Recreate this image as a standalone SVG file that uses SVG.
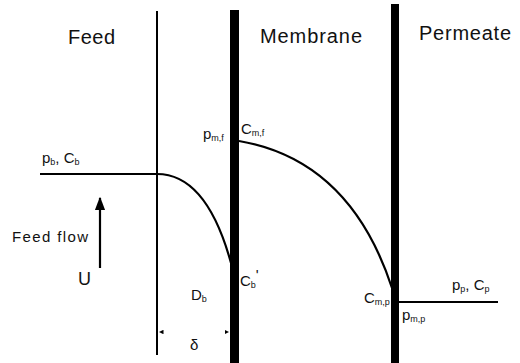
<svg xmlns="http://www.w3.org/2000/svg" width="520" height="363" viewBox="0 0 520 363">
<style>
text{font-family:"Liberation Sans",Arial,sans-serif;fill:#111}
.big{font-size:20px}
.lab{font-size:15px}
.sub{font-size:9px}
.ln{stroke:#000;fill:none;stroke-width:2.2}
</style>
<defs>
<marker id="ah" viewBox="0 0 10 10" refX="9" refY="5" markerWidth="6" markerHeight="4.6" orient="auto" markerUnits="strokeWidth" preserveAspectRatio="none">
<path d="M0,0 L10,5 L0,10 z" fill="#000"/>
</marker>
<marker id="tk" viewBox="0 0 10 10" refX="10" refY="5" markerWidth="3" markerHeight="3" orient="auto" markerUnits="strokeWidth">
<path d="M0,0 L10,5 L0,10 z" fill="#000"/>
</marker>
</defs>
<g id="regions">
<text class="big" x="68" y="44" textLength="47">Feed</text>
<text class="big" x="260" y="43" textLength="102">Membrane</text>
<text class="big" x="419" y="40" textLength="92">Permeate</text>
</g>
<g id="boundary-layer-edge"><line x1="157" y1="11" x2="157" y2="355" stroke="#000" stroke-width="2"/></g>
<g id="membrane-feed-side"><rect x="230" y="10" width="9" height="353" fill="#000"/></g>
<g id="membrane-permeate-side"><rect x="391" y="4" width="8" height="359" fill="#000"/></g>
<g id="connectors">
<path class="ln" d="M40,174 L157,174 C190,174 215,205 231,263"/>
<path class="ln" d="M239,141 Q350,160 392,288"/>
<path class="ln" d="M399,302 L498,302"/>
<line class="ln" x1="100" y1="268" x2="100" y2="198" marker-end="url(#ah)"/>
<line x1="180" y1="332" x2="159" y2="332" stroke="#000" stroke-width="1.5" stroke-opacity="0" marker-end="url(#tk)"/>
<line x1="205" y1="332" x2="229" y2="332" stroke="#000" stroke-width="1.5" stroke-opacity="0" marker-end="url(#tk)"/>
</g>
<g id="labels">
<text class="lab" x="42" y="163">p<tspan class="sub" dy="2">b</tspan><tspan dy="-2">, C</tspan><tspan class="sub" dy="2">b</tspan></text>
<text class="lab" x="203" y="139">p<tspan class="sub" dy="2">m,f</tspan></text>
<text class="lab" x="241" y="134">C<tspan class="sub" dy="2">m,f</tspan></text>
<text class="lab" x="240" y="286">C<tspan class="sub" dy="2">b</tspan><tspan dy="-8">'</tspan></text>
<text class="lab" x="191" y="300">D<tspan class="sub" dy="2">b</tspan></text>
<text class="lab" x="190" y="350">δ</text>
<text class="lab" x="364" y="303">C<tspan class="sub" dy="2">m,p</tspan></text>
<text class="lab" x="402" y="320">p<tspan class="sub" dy="2">m,p</tspan></text>
<text class="lab" x="452" y="290">p<tspan class="sub" dy="2">p</tspan><tspan dy="-2">, C</tspan><tspan class="sub" dy="2">p</tspan></text>
<text class="lab" x="12" y="242" textLength="76">Feed flow</text>
<text class="big" x="78" y="285" style="font-size:18px">U</text>
</g>
</svg>
